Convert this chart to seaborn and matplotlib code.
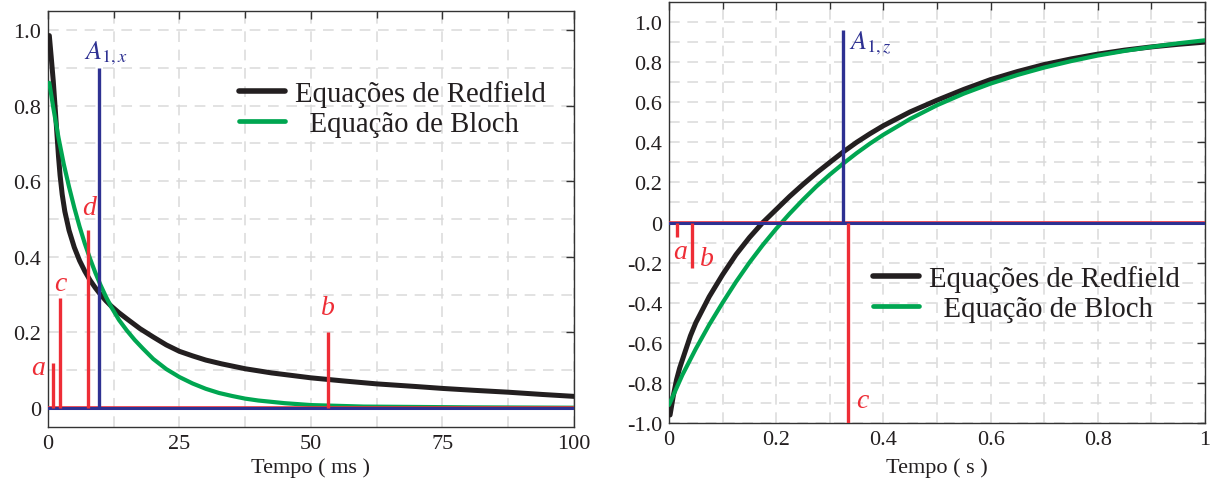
import matplotlib
matplotlib.use("Agg")
import matplotlib.pyplot as plt
import seaborn as sns
from matplotlib.ticker import MultipleLocator, FixedLocator
from matplotlib.lines import Line2D

# ---------------- data : left panel (transverse, ms) ----------------
t_red_L = [0.25, 0.6, 1.0, 1.33, 1.7, 2.0, 2.3, 2.7, 3.2, 4.0, 5.0, 6.0, 7.0, 8.0, 9.0, 10, 11, 12,
           13.5, 15, 17.5, 20, 22.5, 25, 27.5, 30, 33, 37.5, 42.5, 50, 56, 62.5, 70, 75, 81, 87.5,
           94, 100]
y_red_L = [0.985, 0.93, 0.865, 0.80, 0.725, 0.665, 0.615, 0.565, 0.52, 0.47, 0.425, 0.39, 0.362,
           0.338, 0.318, 0.30, 0.284, 0.27, 0.252, 0.236, 0.21, 0.188, 0.167, 0.15, 0.138, 0.127,
           0.117, 0.104, 0.093, 0.08, 0.072, 0.064, 0.057, 0.052, 0.047, 0.042, 0.036, 0.031]
t_blo_L = [0.25, 0.6, 1, 1.5, 2, 2.5, 3, 4, 5, 6, 7, 8, 9, 10, 11, 12, 13.5, 15, 16.5, 18, 20, 22.5,
           25, 27.5, 30, 32.5, 35, 37.5, 40, 45, 50, 55, 60, 70, 80, 100]
y_blo_L = [0.86, 0.83, 0.795, 0.755, 0.715, 0.68, 0.645, 0.585, 0.53, 0.48, 0.435, 0.395, 0.358,
           0.325, 0.295, 0.268, 0.233, 0.205, 0.18, 0.158, 0.13, 0.103, 0.082, 0.065, 0.051, 0.04,
           0.032, 0.025, 0.02, 0.013, 0.008, 0.006, 0.004, 0.003, 0.002, 0.001]
stem_t_red_L = [0.95, 2.28, 7.6, 53.2]
stem_h_red_L = [0.12, 0.29, 0.47, 0.20]
stem_lab_red_L = ["a", "c", "d", "b"]
stem_t_blue_L = [9.75]
stem_h_blue_L = [0.90]
xticks_L = [0, 25, 50, 75, 100]
xticklabels_L = ["0", "25", "50", "75", "100"]
yticks_L = [0, 0.2, 0.4, 0.6, 0.8, 1.0]
yticklabels_L = ["0", "0.2", "0.4", "0.6", "0.8", "1.0"]

# ---------------- data : right panel (longitudinal, s) ----------------
t_red_R = [0.002, 0.008, 0.014, 0.02, 0.03, 0.04, 0.05, 0.075, 0.1, 0.125, 0.15, 0.175, 0.2, 0.225,
           0.25, 0.275, 0.3, 0.325, 0.35, 0.375, 0.4, 0.45, 0.5, 0.55, 0.6, 0.65, 0.7, 0.75, 0.8,
           0.85, 0.9, 0.95, 1.0]
y_red_R = [-0.96, -0.865, -0.785, -0.725, -0.645, -0.565, -0.50, -0.37, -0.26, -0.16, -0.075, 0.0,
           0.065, 0.13, 0.19, 0.247, 0.30, 0.352, 0.40, 0.443, 0.483, 0.552, 0.61, 0.664, 0.713,
           0.753, 0.788, 0.816, 0.84, 0.86, 0.876, 0.889, 0.90]
t_blo_R = [0, 0.025, 0.05, 0.075, 0.1, 0.125, 0.15, 0.175, 0.2, 0.225, 0.25, 0.275, 0.3, 0.325,
           0.35, 0.375, 0.4, 0.45, 0.5, 0.55, 0.6, 0.65, 0.7, 0.75, 0.8, 0.85, 0.9, 0.95, 1.0]
y_blo_R = [-0.91, -0.76, -0.63, -0.51, -0.40, -0.296, -0.20, -0.112, -0.031, 0.044, 0.114, 0.18,
           0.239, 0.294, 0.346, 0.394, 0.438, 0.517, 0.585, 0.643, 0.693, 0.736, 0.773, 0.805,
           0.833, 0.856, 0.876, 0.894, 0.909]
stem_t_red_R = [0.0155, 0.0435, 0.334]
stem_h_red_R = [-0.07, -0.225, -1.0]
stem_lab_red_R = ["a", "b", "c"]
stem_t_blue_R = [0.324]
stem_h_blue_R = [0.96]
xticks_R = [0, 0.2, 0.4, 0.6, 0.8, 1.0]
xticklabels_R = ["0", "0.2", "0.4", "0.6", "0.8", "1"]
yticks_R = [-1.0, -0.8, -0.6, -0.4, -0.2, 0, 0.2, 0.4, 0.6, 0.8, 1.0]
yticklabels_R = ["-1.0", "-0.8", "-0.6", "-0.4", "-0.2", "0", "0.2", "0.4", "0.6", "0.8", "1.0"]

series_names = ["Equações de Redfield", "  Equação de Bloch"]

# ---------------- style ----------------
sns.set_theme(style="white")
plt.rcParams["font.family"] = ["Liberation Serif", "DejaVu Serif"]
plt.rcParams["mathtext.fontset"] = "stix"

C_BLACK = "#231F20"
C_GREEN = "#00A651"
C_RED = "#EE2D36"
C_BLUE = "#2E3192"
C_GRID = "#DADADA"

fig = plt.figure(figsize=(12.16, 4.81), dpi=100)
axL = fig.add_axes([0.03947, 0.11019, 0.43257, 0.86486])
axR = fig.add_axes([0.55016, 0.11850, 0.44079, 0.87526])


def style_axes(ax, xlim, ylim, xticks, xtl, yticks, ytl, xminor, yminor, xlabel, lpad):
    ax.set_xlim(*xlim)
    ax.set_ylim(*ylim)
    ax.xaxis.set_major_locator(FixedLocator(xticks))
    ax.set_xticklabels(xtl)
    ax.yaxis.set_major_locator(FixedLocator(yticks))
    ax.set_yticklabels(ytl)
    ax.xaxis.set_minor_locator(MultipleLocator(xminor))
    ax.yaxis.set_minor_locator(MultipleLocator(yminor))
    ax.tick_params(which="major", direction="in", length=6, width=1.0, color="#333333",
                   top=True, right=True, labelsize=16, pad=5, labelcolor="#231F20")
    ax.tick_params(which="minor", direction="in", length=5, width=1.0, color="#333333",
                   top=True, right=True)
    ax.tick_params(axis="y", which="minor", length=0)
    ax.grid(True, which="both", color=C_GRID, linestyle=(0, (7, 5)), linewidth=1.1)
    ax.set_axisbelow(True)
    for s in ax.spines.values():
        s.set_color("#333333")
        s.set_linewidth(1.0)
    ax.set_xlabel(xlabel, fontsize=16, labelpad=lpad, color="#231F20")
    ax.set_ylabel("")


# ---------------- left panel ----------------
sns.lineplot(x=t_red_L, y=y_red_L, ax=axL, color=C_BLACK, linewidth=3.6, zorder=3)
sns.lineplot(x=t_blo_L, y=y_blo_L, ax=axL, color=C_GREEN, linewidth=3.0, zorder=3)
axL.axhline(0, color=C_RED, linewidth=2.6, zorder=4)
axL.axhline(0, color=C_BLUE, linewidth=2.2, zorder=4.5)
axL.vlines(stem_t_red_L, 0, stem_h_red_L, color=C_RED, linewidth=2.4, zorder=5)
axL.vlines(stem_t_blue_L, 0, stem_h_blue_L, color=C_BLUE, linewidth=2.4, zorder=5)
lab_pos_L = {"a": (-1.9, 0.108), "c": (2.4, 0.33), "d": (7.85, 0.53), "b": (53.2, 0.265)}
for lab in stem_lab_red_L:
    x, y = lab_pos_L[lab]
    axL.text(x, y, lab, color=C_RED, fontsize=20, style="italic", ha="center", va="center",
             clip_on=False, zorder=6)
axL.text(6.8, 0.94, r"$A_{1,x}$", color=C_BLUE, fontsize=19, ha="left", va="center", zorder=6)
style_axes(axL, (0, 100), (-0.05, 1.05), xticks_L, xticklabels_L, yticks_L, yticklabels_L,
           12.5, 0.1, "Tempo ( ms )", 3)

# ---------------- right panel ----------------
sns.lineplot(x=t_red_R, y=y_red_R, ax=axR, color=C_BLACK, linewidth=3.6, zorder=3)
sns.lineplot(x=t_blo_R, y=y_blo_R, ax=axR, color=C_GREEN, linewidth=3.0, zorder=3)
axR.axhline(0, color=C_RED, linewidth=2.6, zorder=4)
axR.axhline(0, color=C_BLUE, linewidth=2.2, zorder=4.5)
axR.vlines(stem_t_red_R, 0, stem_h_red_R, color=C_RED, linewidth=2.4, zorder=5)
axR.vlines(stem_t_blue_R, 0, stem_h_blue_R, color=C_BLUE, linewidth=2.4, zorder=5)
lab_pos_R = {"a": (0.0205, -0.145), "b": (0.070, -0.18), "c": (0.36, -0.89)}
for lab in stem_lab_red_R:
    x, y = lab_pos_R[lab]
    axR.text(x, y, lab, color=C_RED, fontsize=20, style="italic", ha="center", va="center", zorder=6)
axR.text(0.336, 0.90, r"$A_{1,z}$", color=C_BLUE, fontsize=19, ha="left", va="center", zorder=6)
style_axes(axR, (0, 1), (-1.0, 1.1), xticks_R, xticklabels_R, yticks_R, yticklabels_R,
           0.1, 0.1, "Tempo ( s )", 6)

# ---------------- legends ----------------
handles = [Line2D([], [], color=C_BLACK, linewidth=4.0),
           Line2D([], [], color=C_GREEN, linewidth=3.4)]
for ax, anchor in [(axL, (0.1965, 0.831)), (axR, (0.718, 0.447))]:
    ax.legend(handles, series_names, loc="upper left", bbox_to_anchor=anchor,
              bbox_transform=fig.transFigure, frameon=False, fontsize=20.7,
              handlelength=1.6, handletextpad=0.35, labelspacing=0.14, borderpad=0,
              borderaxespad=0, labelcolor="#231F20")

fig.savefig("out.png", dpi=100)
